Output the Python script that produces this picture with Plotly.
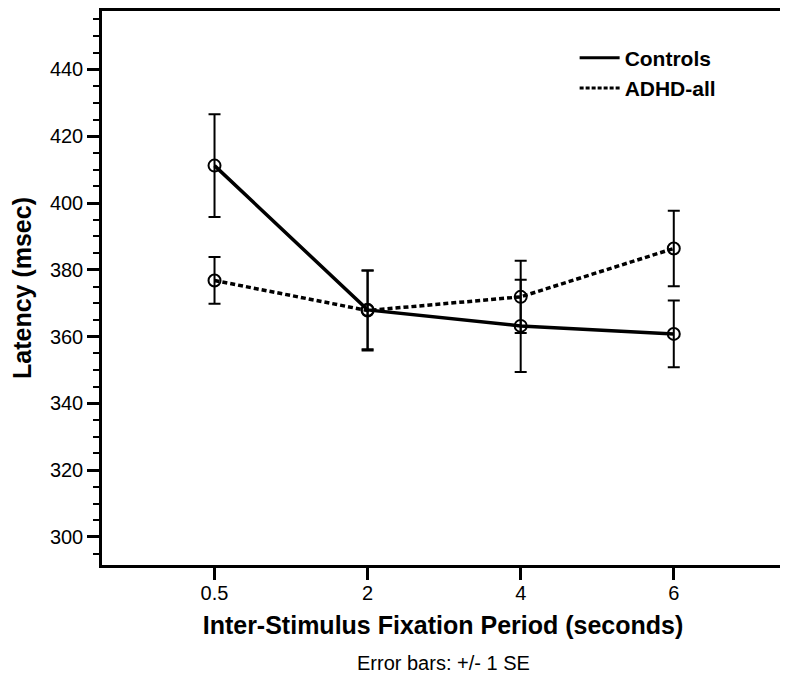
import plotly.graph_objects as go

categories = ["0.5", "2", "4", "6"]
controls_mean = [411.2, 368.0, 363.2, 360.8]
controls_se = [15.4, 11.8, 13.8, 10.0]
adhd_mean = [376.8, 367.8, 371.9, 386.4]
adhd_se = [7.0, 12.0, 10.8, 11.3]
y_ticks = [300, 320, 340, 360, 380, 400, 420, 440]

FONT = "Liberation Sans"

fig = go.Figure()

fig.add_trace(go.Scatter(
    x=categories, y=controls_mean, mode="lines+markers", showlegend=False,
    line=dict(color="black", width=3.5),
    marker=dict(symbol="circle-open", size=12, color="black", line=dict(width=2)),
    error_y=dict(type="data", array=controls_se, visible=True, color="black", thickness=2, width=6),
))
fig.add_trace(go.Scatter(
    x=categories, y=adhd_mean, mode="lines+markers", showlegend=False,
    line=dict(color="black", width=3.5, dash="5px,3px"),
    marker=dict(symbol="circle-open", size=12, color="black", line=dict(width=2)),
    error_y=dict(type="data", array=adhd_se, visible=True, color="black", thickness=2, width=6),
))
# legend-only entries (lines without markers)
fig.add_trace(go.Scatter(x=[None], y=[None], mode="lines", name="Controls",
                         line=dict(color="black", width=3)))
fig.add_trace(go.Scatter(x=[None], y=[None], mode="lines", name="ADHD-all",
                         line=dict(color="black", width=3, dash="4px,2px")))

fig.update_layout(
    width=780, height=668,
    margin=dict(l=94, r=4, t=0, b=111),
    paper_bgcolor="white", plot_bgcolor="white",
    font=dict(family=FONT, color="black", size=20),
    legend=dict(x=0.693, y=0.952, xanchor="left", yanchor="top",
                bgcolor="rgba(0,0,0,0)", itemwidth=40,
                font=dict(family=FONT, size=21, weight="bold", color="black")),
    xaxis=dict(
        type="category", range=[-0.735, 3.72],
        showline=True, linecolor="black", linewidth=2.5, mirror=True,
        ticks="outside", ticklen=12, tickwidth=2.5, tickcolor="black",
        ticklabelstandoff=-4,
        showgrid=False, zeroline=False,
        tickfont=dict(family=FONT, size=20, color="black"),
        title=dict(text="Inter-Stimulus Fixation Period (seconds)", standoff=14,
                   font=dict(family=FONT, size=25, weight="bold", color="black")),
    ),
    yaxis=dict(
        range=[291.6, 457.5],
        tickvals=y_ticks,
        showline=True, linecolor="black", linewidth=2.5, mirror=True,
        ticks="outside", ticklen=12, tickwidth=2.5, tickcolor="black",
        minor=dict(dtick=5, tick0=300, ticks="outside", ticklen=6, tickwidth=2, tickcolor="black", showgrid=False),
        showgrid=False, zeroline=False,
        tickfont=dict(family=FONT, size=20, color="black"),
        title=dict(text="Latency (msec)", standoff=12,
                   font=dict(family=FONT, size=25, weight="bold", color="black")),
    ),
    annotations=[dict(text="Error bars: +/- 1 SE", xref="paper", yref="paper",
                      x=0.5, y=-0.176, xanchor="center", yanchor="middle",
                      showarrow=False, font=dict(family=FONT, size=20, color="black"))],
)

fig.write_html("out.html")
